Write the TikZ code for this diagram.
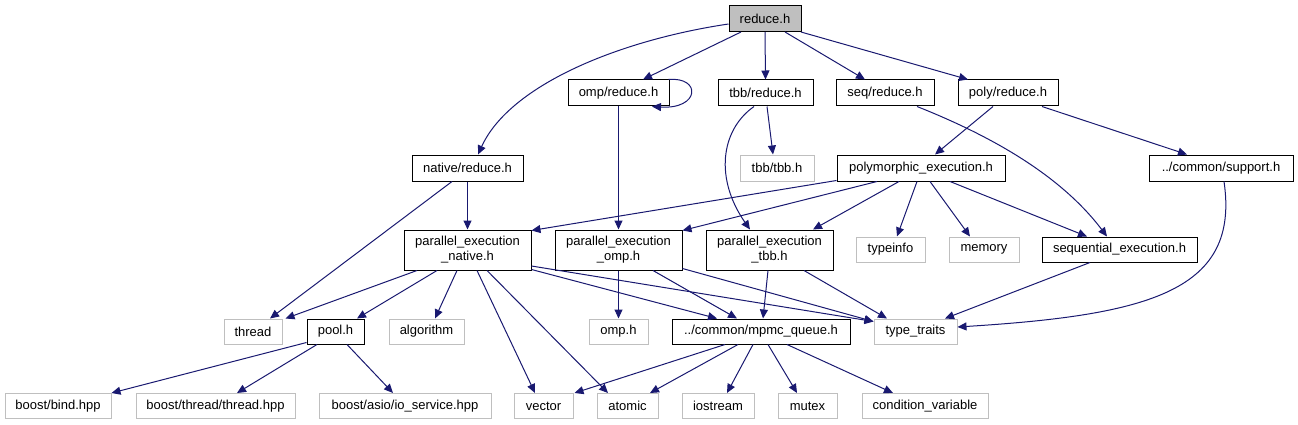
\documentclass[tikz,border=0pt]{standalone}
\usepackage{fontspec}
\setmainfont{Liberation Sans}
\usetikzlibrary{arrows.meta}
\definecolor{edgeblue}{HTML}{191970}
\definecolor{extgray}{HTML}{BFBFBF}
\tikzset{
  fnode/.style={draw=black, line width=1pt, minimum height=26pt, inner sep=0pt, align=center,
    font=\fontsize{13}{15}\selectfont, text=black},
  tnode/.style={fnode, minimum height=40pt},
  xnode/.style={fnode, draw=extgray, minimum height=25pt},
  mainnode/.style={fnode, fill=extgray},
  dep/.style={draw=edgeblue, line width=1pt, -{Triangle[length=9pt,width=8pt]}, fill=none}
}
\begin{document}
\begin{tikzpicture}[x=1pt,y=-1pt]
\useasboundingbox (0,0) rectangle (1298,425);
% row 1
\node[mainnode, minimum width=72pt] (reduce) at (765,18.5) {reduce.h};
% row 2
\node[fnode, minimum width=101pt] (ompr) at (618.5,93) {omp/reduce.h};
\node[fnode, minimum width=95pt] (tbbr) at (765.5,93) {tbb/reduce.h};
\node[fnode, minimum width=98pt] (seqr) at (885,93) {seq/reduce.h};
\node[fnode, minimum width=100pt] (polyr) at (1008,93) {poly/reduce.h};
% row 3
\node[fnode, minimum width=111pt] (nativer) at (467.5,168) {native/reduce.h};
\node[xnode, minimum width=74pt, minimum height=26pt] (tbbh) at (777,168) {tbb/tbb.h};
\node[fnode, minimum width=168pt] (polyexec) at (921,168) {polymorphic\_execution.h};
\node[fnode, minimum width=144pt] (support) at (1221,168) {../common/support.h};
% row 4
\node[tnode, minimum width=127pt] (pen) at (467.5,250) {parallel\_execution\\\_native.h};
\node[tnode, minimum width=127pt] (peo) at (618.5,250) {parallel\_execution\\\_omp.h};
\node[tnode, minimum width=127pt] (pet) at (769.5,250) {parallel\_execution\\\_tbb.h};
\node[xnode, minimum width=69pt] (typeinfo) at (890.5,249.5) {typeinfo};
\node[xnode, minimum width=70pt] (memory) at (984,249.5) {memory};
\node[fnode, minimum width=155pt, minimum height=25pt] (seqexec) at (1119.5,249.5) {sequential\_execution.h};
% row 5
\node[xnode, minimum width=58pt] (thread) at (253,331.5) {thread};
\node[fnode, minimum width=57pt, minimum height=25pt] (pool) at (335.5,331.5) {pool.h};
\node[xnode, minimum width=75pt] (algorithm) at (426.5,331.5) {algorithm};
\node[xnode, minimum width=59pt] (omph) at (618.5,331.5) {omp.h};
\node[fnode, minimum width=178pt, minimum height=25pt] (mpmc) at (761,331.5) {../common/mpmc\_queue.h};
\node[xnode, minimum width=83pt] (typetraits) at (915.5,331.5) {type\_traits};
% row 6
\node[xnode, minimum width=106pt] (bind) at (58,406) {boost/bind.hpp};
\node[xnode, minimum width=159pt] (threadhpp) at (215.5,406) {boost/thread/thread.hpp};
\node[xnode, minimum width=172pt] (io) at (405,406) {boost/asio/io\_service.hpp};
\node[xnode, minimum width=59pt] (vector) at (543.5,406) {vector};
\node[xnode, minimum width=61pt] (atomic) at (627.5,406) {atomic};
\node[xnode, minimum width=72pt] (iostream) at (718,406) {iostream};
\node[xnode, minimum width=59pt] (mutex) at (807.5,406) {mutex};
\node[xnode, minimum width=126pt] (condvar) at (925,406) {condition\_variable};

% edges from reduce.h
\draw[dep] ([xshift=-24pt]reduce.south) -- ([xshift=24.5pt]ompr.north);
\draw[dep] (reduce.south) -- (tbbr.north);
\draw[dep] ([xshift=20pt]reduce.south) -- ([xshift=-20pt]seqr.north);
\draw[dep] ([xshift=36pt]reduce.south) -- ([xshift=-40pt]polyr.north);
\draw[dep] ([yshift=-5.5pt]reduce.west) .. controls +(-108,16) and +(32,-70) .. ([xshift=10.5pt]nativer.north);
% omp/reduce.h
\draw[dep] ([xshift=-1pt]ompr.north east) .. controls +(33,-3) and +(48,3) .. ([xshift=33.5pt]ompr.south);
\draw[dep] (ompr.south) -- (peo.north);
% tbb/reduce.h
\draw[dep] ([xshift=1.5pt]tbbr.south) -- ([xshift=-4pt]tbbh.north);
\draw[dep] ([xshift=-11.5pt]tbbr.south) .. controls +(-34,24) and +(-35,-50) .. ([xshift=-19.5pt]pet.north);
% seq/reduce.h
\draw[dep] ([xshift=32pt]seqr.south) .. controls +(73,29) and +(-47,-62) .. ([xshift=-12.5pt]seqexec.north);
% poly/reduce.h
\draw[dep] ([xshift=-15pt]polyr.south) -- ([xshift=14pt]polyexec.north);
\draw[dep] ([xshift=34pt]polyr.south) -- ([xshift=-34pt]support.north);
% native/reduce.h
\draw[dep] ([xshift=-15.5pt]nativer.south) -- ([xshift=17pt]thread.north);
\draw[dep] (nativer.south) -- (pen.north);
% polymorphic_execution.h
\draw[dep] ([yshift=1pt]polyexec.south west) -- ([yshift=-1pt]pen.north east);
\draw[dep] ([xshift=-44pt]polyexec.south) -- ([yshift=-1pt]peo.north east);
\draw[dep] ([xshift=-22pt]polyexec.south) -- ([xshift=43.5pt]pet.north);
\draw[dep] ([xshift=-4pt]polyexec.south) -- ([xshift=6.5pt]typeinfo.north);
\draw[dep] ([xshift=9pt]polyexec.south) -- ([xshift=-14pt]memory.north);
\draw[dep] ([xshift=29pt]polyexec.south) -- ([xshift=-32.5pt]seqexec.north);
% support.h
\draw[dep] ([xshift=3pt]support.south) .. controls +(16,109) and +(193,-12) .. ([yshift=4.5pt]typetraits.east);
% sequential_execution.h
\draw[dep] ([xshift=-29.5pt]seqexec.south) -- ([xshift=29.5pt]typetraits.north);
% parallel_execution_native.h
\draw[dep] ([xshift=-50.5pt]pen.south) -- ([xshift=3pt]thread.north east);
\draw[dep] ([xshift=-30.5pt]pen.south) -- ([xshift=21.5pt]pool.north);
\draw[dep] ([xshift=-10.5pt]pen.south) -- ([xshift=8.5pt]algorithm.north);
\draw[dep] ([xshift=9.5pt]pen.south) -- ([xshift=-8.5pt]vector.north);
\draw[dep] ([xshift=19.5pt]pen.south) -- ([xshift=-19.5pt]atomic.north);
\draw[dep] ([yshift=1pt]pen.south east) -- ([xshift=-44pt]mpmc.north);
\draw[dep] ([yshift=-16pt]pen.east) -- ([yshift=-3pt]typetraits.north west);
% parallel_execution_omp.h
\draw[dep] (peo.south) -- (omph.north);
\draw[dep] ([xshift=34.5pt]peo.south) -- ([xshift=-24pt]mpmc.north);
\draw[dep] ([yshift=2pt]peo.south east) -- ([yshift=-3pt]typetraits.north west);
% parallel_execution_tbb.h
\draw[dep] ([xshift=-1.5pt]pet.south) -- ([xshift=2pt]mpmc.north);
\draw[dep] ([xshift=34.5pt]pet.south) -- ([xshift=-28.5pt]typetraits.north);
% pool.h
\draw[dep] ([yshift=2pt]pool.south west) -- (bind.north east);
\draw[dep] ([xshift=-18.5pt]pool.south) -- ([xshift=21.5pt]threadhpp.north);
\draw[dep] ([xshift=11.5pt]pool.south) -- ([xshift=-12pt]io.north);
% mpmc_queue.h
\draw[dep] ([xshift=-36pt]mpmc.south) -- ([xshift=1pt]vector.north east);
\draw[dep] ([xshift=-23pt]mpmc.south) -- ([xshift=22.5pt]atomic.north);
\draw[dep] ([xshift=-8pt]mpmc.south) -- ([xshift=9pt]iostream.north);
\draw[dep] ([xshift=7pt]mpmc.south) -- ([xshift=-10.5pt]mutex.north);
\draw[dep] ([xshift=26pt]mpmc.south) -- ([xshift=-32pt]condvar.north);
\end{tikzpicture}
\end{document}
